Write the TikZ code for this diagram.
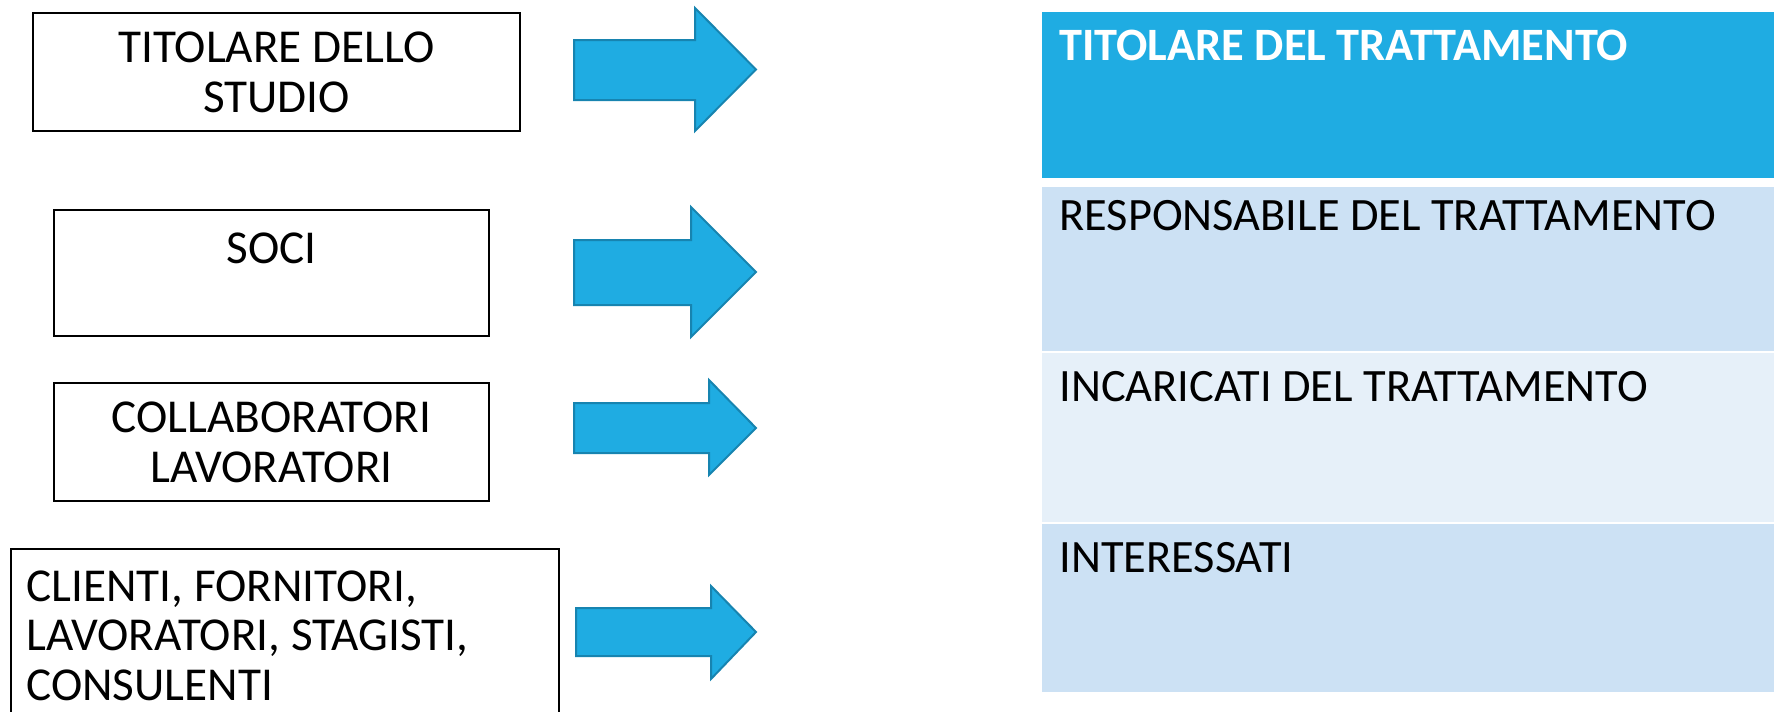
\documentclass[tikz,border=0pt]{standalone}
\usepackage{fontspec}
\setmainfont{Carlito}
\definecolor{dblue}{HTML}{1FACE2}
\definecolor{aedge}{HTML}{1784B0}
\definecolor{lblue}{HTML}{CCE1F4}
\definecolor{llblue}{HTML}{E6F0F9}
\begin{document}
\begin{tikzpicture}[x=0.5pt,y=-0.5pt,
  lbox/.style={draw=black, line width=1pt, inner sep=0pt, align=center,
    font=\fontsize{23.6pt}{25pt}\selectfont},
  arr/.style={fill=dblue, draw=aedge, line width=1pt, line join=miter},
  row/.style={inner sep=0pt, minimum width=366pt, anchor=north west},
  rtext/.style={inner sep=0pt, anchor=west, font=\fontsize{23.2pt}{25pt}\selectfont}]
\useasboundingbox (0,0) rectangle (1774,712);
\clip (0,0) rectangle (1774,712);
% left boxes
\node[lbox, minimum width=243.5pt, minimum height=59pt] (b1) at (276.5,72) {TITOLARE DELLO\\STUDIO};
\node[lbox, minimum width=217.5pt, minimum height=63pt] (b2) at (271.5,273) {SOCI\\\mbox{}};
\node[lbox, minimum width=217.5pt, minimum height=59pt] (b3) at (271.5,442) {COLLABORATORI\\LAVORATORI};
\node[lbox, minimum width=274pt, minimum height=110pt, anchor=north west] (b4) at (10,548) {};
\node[inner sep=0pt, anchor=north west, align=left, font=\fontsize{23.6pt}{24.8pt}\selectfont] (t4) at (26,570) {CLIENTI, FORNITORI,\\LAVORATORI, STAGISTI,\\CONSULENTI};
% arrows
\draw[arr] (574,40) -- (695,40) -- (695,8) -- (756,69.5) -- (695,131) -- (695,100) -- (574,100) -- cycle;
\draw[arr] (574,240) -- (691,240) -- (691,207) -- (756,272) -- (691,337) -- (691,305) -- (574,305) -- cycle;
\draw[arr] (574,403) -- (709,403) -- (709,380) -- (756,428) -- (709,475) -- (709,453) -- (574,453) -- cycle;
\draw[arr] (576,608) -- (711,608) -- (711,586) -- (756,632) -- (711,679) -- (711,656) -- (576,656) -- cycle;
% table
\node[row, fill=dblue, minimum height=83pt] (r1) at (1042,12) {};
\node[row, fill=lblue, minimum height=82pt] (r2) at (1042,187) {};
\node[row, fill=llblue, minimum height=84.5pt] (r3) at (1042,353) {};
\node[row, fill=lblue, minimum height=84pt] (r4) at (1042,524) {};
\node[rtext, text=white, font=\fontsize{23.2pt}{25pt}\selectfont\bfseries] (l1) at (1059,45) {TITOLARE DEL TRATTAMENTO};
\node[rtext] (l2) at (1059,216) {RESPONSABILE DEL TRATTAMENTO};
\node[rtext] (l3) at (1059,387) {INCARICATI DEL TRATTAMENTO};
\node[rtext] (l4) at (1059,558) {INTERESSATI};
\end{tikzpicture}
\end{document}
